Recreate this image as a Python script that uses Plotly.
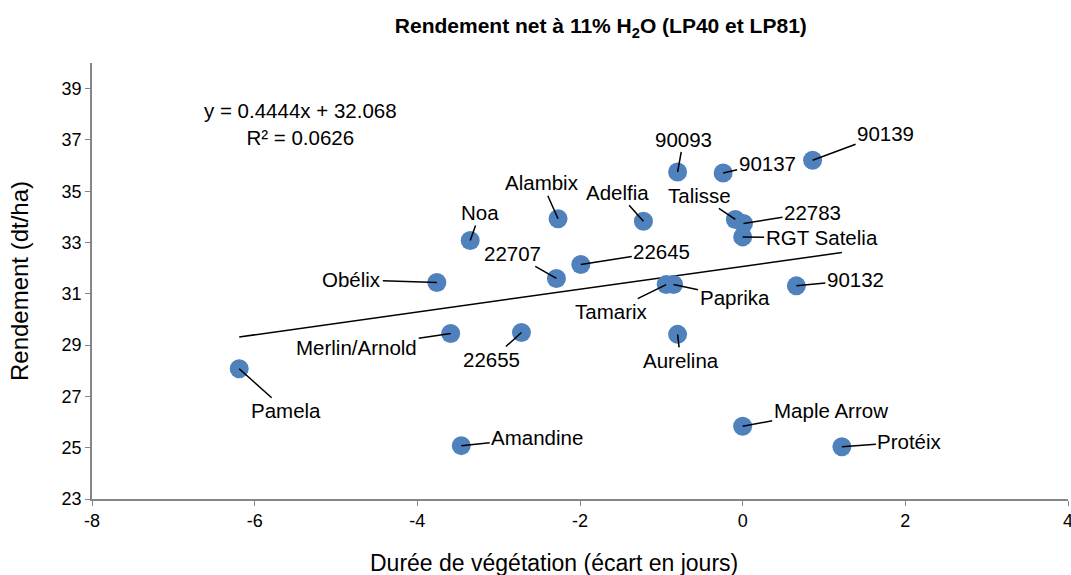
import plotly.graph_objects as go

# Data
varieties = ["Pamela", "Amandine", "Merlin/Arnold", "Obélix", "Noa", "22655", "22707",
             "Alambix", "22645", "Adelfia", "90093", "Tamarix", "Paprika", "Aurelina",
             "90137", "Talisse", "22783", "RGT Satelia", "90132", "90139", "Maple Arrow", "Protéix"]
duree = [-6.19, -3.46, -3.59, -3.76, -3.35, -2.72, -2.29,
         -2.27, -1.99, -1.22, -0.80, -0.94, -0.85, -0.80,
         -0.24, -0.09, 0.01, 0.0, 0.66, 0.86, 0.0, 1.22]
rendement = [28.08, 25.08, 29.45, 31.44, 33.08, 29.49, 31.60,
             33.93, 32.14, 33.83, 35.75, 31.36, 31.36, 29.42,
             35.71, 33.90, 33.74, 33.22, 31.31, 36.21, 25.84, 25.04]
# label offsets (pixels) for the leader-line labels
label_dx = [47, 76, -94, -85, 10, -30, -44, -16, 81, -26, 6, -55, 61, 3, 44, -36, 69, 79, 59, 73, 88, 68]
label_dy = [42, -8, 14, -3, -28, 27, -25, -36, -13, -29, -33, 27, 13, 26, -10, -24, -11, 1, -6, -27, -16, -5]

x_ticks = [-8, -6, -4, -2, 0, 2, 4]
x_ticktext = ["-8", "-6", "-4", "-2", "0", "2", "4"]
y_ticks = [23, 25, 27, 29, 31, 33, 35, 37, 39]

slope = 0.4444
intercept = 32.068
r2 = 0.0626

font_family = "Liberation Sans, Arial, sans-serif"

fig = go.Figure()

# Trend line
xmin, xmax = min(duree), max(duree)
fig.add_trace(go.Scatter(
    x=[xmin, xmax], y=[slope * xmin + intercept, slope * xmax + intercept],
    mode="lines", line=dict(color="black", width=1.5), showlegend=False, hoverinfo="skip"))

# Points
fig.add_trace(go.Scatter(
    x=duree, y=rendement, mode="markers", text=varieties,
    marker=dict(size=19, color="#4F81BD", line=dict(width=0)),
    showlegend=False))

for name, xv, yv, dx, dy in zip(varieties, duree, rendement, label_dx, label_dy):
    fig.add_annotation(x=xv, y=yv, text=name, showarrow=True, ax=dx, ay=dy,
                       arrowhead=0, arrowwidth=1.5, arrowcolor="black", standoff=0,
                       font=dict(family=font_family, size=20.5, color="black"))

# Equation text
fig.add_annotation(x=-5.44, y=37.62, xref="x", yref="y",
                   text=f"y = {slope}x + {intercept}<br>R² = {r2}",
                   showarrow=False, align="center",
                   font=dict(family=font_family, size=20.5, color="black"))

# X axis title (placed slightly left of the plot centre, as in the reference)
fig.add_annotation(x=0.473, y=-0.147, xref="paper", yref="paper",
                   xanchor="center", yanchor="middle", showarrow=False,
                   text="Durée de végétation (écart en jours)",
                   font=dict(family=font_family, size=23, color="black"))

fig.update_layout(
    width=1071, height=575,
    margin=dict(l=92, r=3, t=63, b=76, autoexpand=False),
    paper_bgcolor="white", plot_bgcolor="white",
    title=dict(text="<b>Rendement net à 11% H<sub>2</sub>O (LP40 et LP81)</b>",
               x=0.561, xanchor="center", y=0.955, yanchor="middle",
               automargin=False,
               font=dict(family=font_family, size=21, color="black")),
    font=dict(family=font_family, color="black"),
)

fig.update_xaxes(range=[-8, 4], tickvals=x_ticks, ticktext=x_ticktext,
                 showgrid=False, zeroline=False, automargin=False,
                 showline=True, linecolor="#868686", linewidth=1.5,
                 ticks="outside", ticklen=5, tickcolor="#868686",
                 ticklabeloverflow="allow",
                 tickfont=dict(size=18, family=font_family, color="black"))
fig.update_yaxes(range=[23, 40], tickvals=y_ticks,
                 showgrid=False, zeroline=False, automargin=False,
                 showline=True, linecolor="#868686", linewidth=1.5,
                 ticks="outside", ticklen=5, tickcolor="#868686",
                 tickfont=dict(size=18, family=font_family, color="black"),
                 title=dict(text="Rendement (dt/ha)", standoff=26,
                            font=dict(size=24, family=font_family, color="black")))

# remove the default page margin and scrollbars so the figure fills the window exactly
fig.write_html("out.html",
               config={"displayModeBar": False},
               post_script="document.body.style.margin='0';"
                           "document.body.style.overflow='hidden';"
                           "document.documentElement.style.overflow='hidden';")
